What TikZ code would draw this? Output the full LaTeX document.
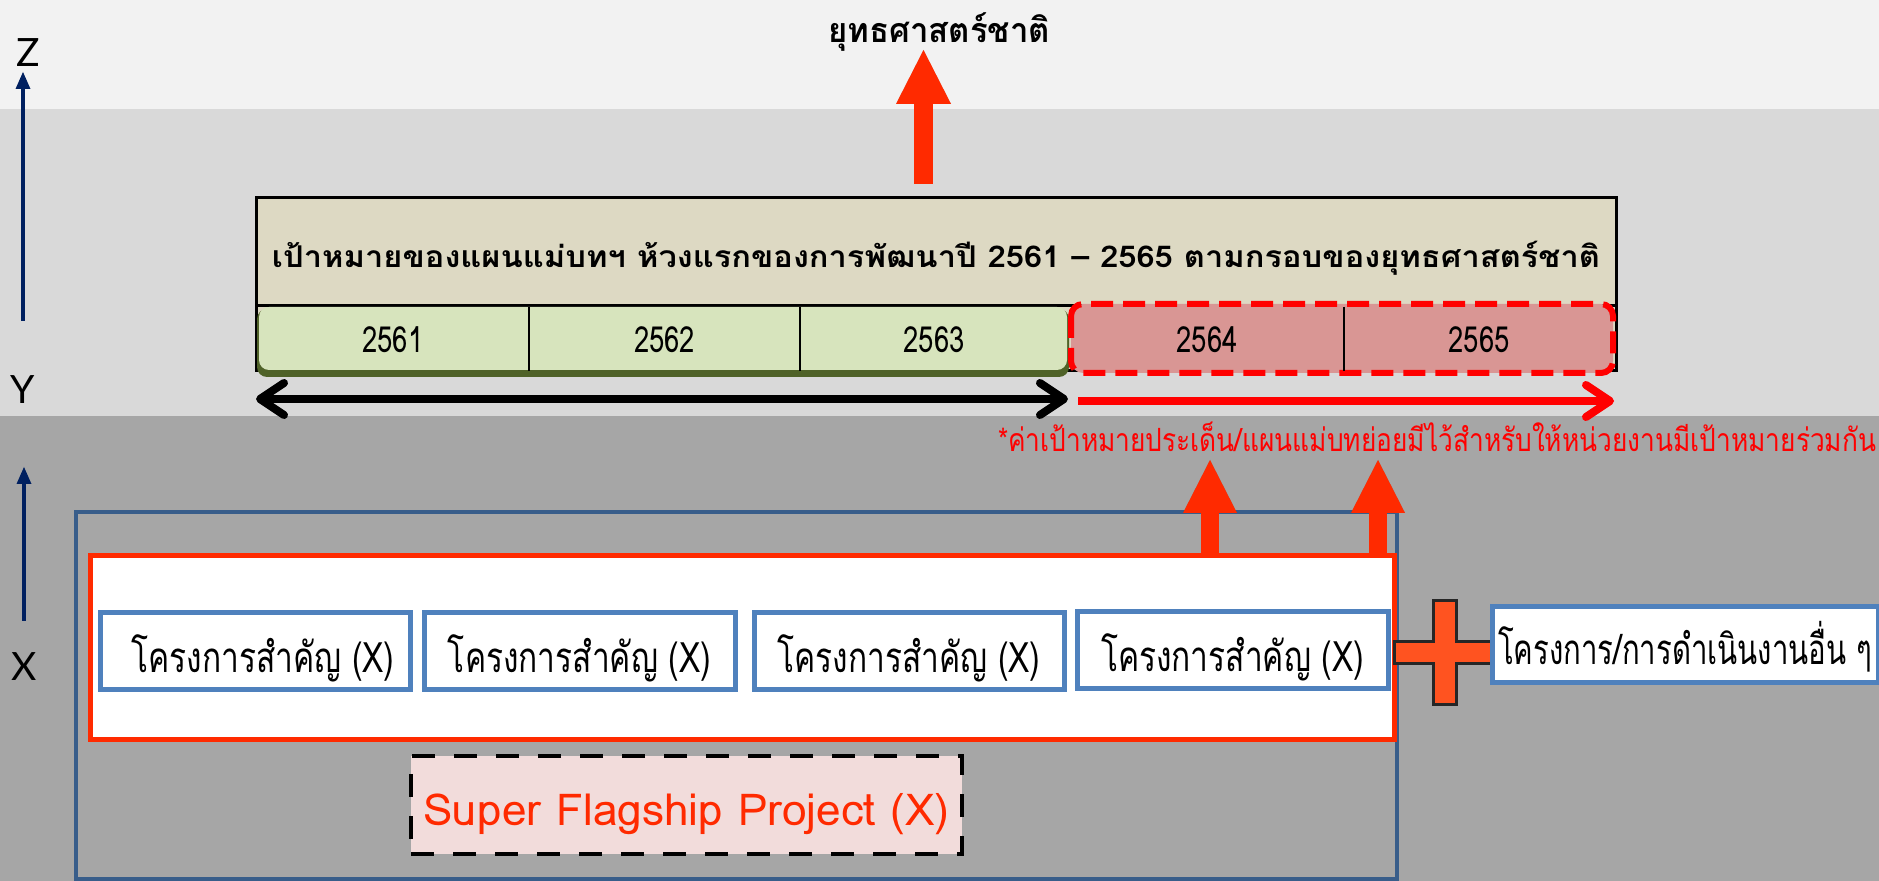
\documentclass[tikz,border=0pt]{standalone}
\usepackage{fontspec}
\usepackage{graphicx}
\usetikzlibrary{arrows.meta,shadows,calc}
\newfontfamily\thai[Script=Thai]{Loma}
\newfontfamily\axfont{Lato}
\newcommand\fitw[2]{\resizebox{#1}{\height}{#2}}
\definecolor{cBandA}{HTML}{F2F2F2}
\definecolor{cBandB}{HTML}{D9D9D9}
\definecolor{cBandC}{HTML}{A6A6A6}
\definecolor{cTan}{HTML}{DDD9C3}
\definecolor{cGreen}{HTML}{D7E4BD}
\definecolor{cOlive}{HTML}{4F6228}
\definecolor{cPink}{HTML}{D99694}
\definecolor{cRed}{HTML}{FF0000}
\definecolor{cRedA}{HTML}{FF2A00}
\definecolor{cNavy}{HTML}{002060}
\definecolor{cBlue}{HTML}{4F81BD}
\definecolor{cBlueD}{HTML}{385D8A}
\definecolor{cFlag}{HTML}{F2DCDB}
\definecolor{cPlus}{HTML}{FF5320}
\definecolor{cDark}{HTML}{262626}
\begin{document}
\begin{tikzpicture}[x=0.5pt,y=-0.5pt,
  every node/.style={inner sep=0pt, outer sep=0pt},
  projbox/.style={draw=cBlue, line width=2.5pt, fill=white, minimum width=155pt, minimum height=38pt,
    drop shadow={opacity=0.25, shadow xshift=0.5pt, shadow yshift=-1.5pt},
    font=\thai\fontsize{21}{24}\selectfont, text height=21pt, text depth=0pt},
  yearcell/.style={minimum height=32pt, font=\thai\fontsize{18}{20}\selectfont, text height=14pt, text depth=0pt},
  bigred/.style={draw=cRedA, line width=9.5pt, -{Triangle[length=27pt,width=27.5pt,line width=0pt]}},
  smallred/.style={draw=cRedA, line width=9pt, -{Triangle[length=26.5pt,width=27pt,line width=0pt]}},
  redshadow/.style={draw=black, opacity=0.18, xshift=1.5pt, yshift=-2pt},
  axisarrow/.style={draw=cNavy, line width=1.75pt, -{Triangle[length=8.5pt,width=7.5pt,line width=0pt]}},
  axislabel/.style={font=\axfont\fontsize{19.5}{22}\selectfont, anchor=base},
  spanarrow/.style={line width=4pt, {Straight Barb[length=12pt,width=16pt,round]}-{Straight Barb[length=12pt,width=16pt,round]}},
  redspan/.style={draw=cRed, line width=4pt, -{Straight Barb[length=12pt,width=16pt,round]}}
]
\useasboundingbox (0,0) rectangle (1879,881);
% background bands
\fill[cBandA] (0,0) rectangle (1879,109);
\fill[cBandB] (0,109) rectangle (1879,416);
\fill[cBandC] (0,416) rectangle (1879,881);

% axes
\node[axislabel] (zl) at (28,67) {Z};
\node[axislabel] (yl) at (23,404) {Y};
\node[axislabel] (xl) at (24,680) {X};
\coordinate (ztip) at (23,72);
\coordinate (zbot) at (23,321);
\coordinate (xtip) at (24,467);
\coordinate (xbot) at (24,621);
\draw[axisarrow] (zbot) -- (ztip);
\draw[axisarrow] (xbot) -- (xtip);

% goal
\node[anchor=base, font=\thai\bfseries\fontsize{17}{19}\selectfont] (goal) at (939,43) {\fitw{111pt}{ยุทธศาสตร์ชาติ}};
\coordinate (gtip) at (923.5,50);

% title box
\node[draw=black, line width=1.5pt, fill=cTan, minimum width=680pt, minimum height=54pt, anchor=north west,
  font=\thai\bfseries\fontsize{15}{17}\selectfont, text height=16pt, text depth=0pt] (titlebox) at (256,198)
  {\fitw{664pt}{เป้าหมายของแผนแม่บทฯ ห้วงแรกของการพัฒนาปี 2561 – 2565 ตามกรอบของยุทธศาสตร์ชาติ}};
\draw[black, line width=1.5pt, fill=cTan] (titlebox.south west) rectangle ++(1360,65);
\draw[bigred, redshadow, shorten <=7pt] (titlebox.north -| gtip) -- (gtip);
\draw[bigred, shorten <=7pt] (titlebox.north -| gtip) -- (gtip);

% year row
\fill[cOlive, rounded corners=5pt] (257,309) rectangle (1069,377);
\fill[cGreen, rounded corners=5pt] (259,307) rectangle (1067,370);
\draw[cRed, line width=3pt, dash pattern=on 11pt off 5pt, fill=cPink, rounded corners=6pt] (1071,304) rectangle (1613,373);
\node[yearcell, minimum width=136pt] (y1) at (393,339) {\fitw{30.5pt}{2561}};
\node[yearcell, minimum width=135.5pt] (y2) at (664.5,339) {\fitw{30.5pt}{2562}};
\node[yearcell, minimum width=134pt] (y3) at (934,339) {\fitw{30.5pt}{2563}};
\node[yearcell, minimum width=137pt] (y4) at (1207,339) {\fitw{30.5pt}{2564}};
\node[yearcell, minimum width=135pt] (y5) at (1479,339) {\fitw{30.5pt}{2565}};
\draw[black, line width=1pt] (y1.north east) -- (y1.south east);
\draw[black, line width=1pt] (y2.north east) -- (y2.south east);
\draw[black, line width=1pt] (y4.north east) -- (y4.south east);

% span arrows
\coordinate (sa) at (256,399);
\coordinate (sb) at (1068,399);
\coordinate (ra) at (1078,401);
\coordinate (rb) at (1614,401);
\draw[spanarrow] (sa) -- (sb);
\draw[redspan] (ra) -- (rb);

% note
\node[anchor=base east, text=cRed, font=\thai\fontsize{16}{18}\selectfont] (note) at (1876,452)
  {\fitw{439pt}{*ค่าเป้าหมายประเด็น/แผนแม่บทย่อยมีไว้สำหรับให้หน่วยงานมีเป้าหมายร่วมกัน}};

% outer frame and panel
\node[draw=cBlueD, line width=2pt, minimum width=660.5pt, minimum height=183.5pt, anchor=north west] (outer) at (76,512) {};
\node[draw=cRedA, fill=white, line width=2.5pt, minimum width=652pt, minimum height=91.5pt, anchor=north west,
  drop shadow={opacity=0.25, shadow xshift=0.5pt, shadow yshift=-1.5pt}] (panel) at (90,556) {};

\coordinate (t1) at (1210,460);
\coordinate (t2) at (1378,460);
\draw[smallred, redshadow] (panel.north -| t1) -- (t1);
\draw[smallred, redshadow] (panel.north -| t2) -- (t2);
\draw[smallred] (panel.north -| t1) -- (t1);
\draw[smallred] (panel.north -| t2) -- (t2);

% project boxes
\node[projbox] (b1) at (255,651) {\hspace*{8pt}\fitw{131.5pt}{โครงการสำคัญ (X)}};
\node[projbox, minimum width=155.5pt] (b2) at (579.5,651) {\fitw{131.5pt}{โครงการสำคัญ (X)}};
\node[projbox] (b3) at (909,651) {\fitw{131.5pt}{โครงการสำคัญ (X)}};
\node[projbox, minimum width=155.5pt] (b4) at (1232.5,650) {\fitw{131.5pt}{โครงการสำคัญ (X)}};

% plus sign
\draw[fill=cPlus, draw=cDark, line width=1.5pt]
  (1394,641) -- (1433,641) -- (1433,601) -- (1456,601) -- (1456,641) -- (1496,641) -- (1496,663)
  -- (1456,663) -- (1456,704) -- (1433,704) -- (1433,663) -- (1394,663) -- cycle;

% other box
\node[projbox, minimum width=193pt, minimum height=37.5pt, text height=20pt] (other) at (1685,644.5) {\fitw{187pt}{โครงการ/การดำเนินงานอื่น ๆ}};

% super flagship
\node[draw=black, line width=2.25pt, dash pattern=on 11.5pt off 9.5pt, fill=cFlag, minimum width=275.5pt, minimum height=49pt,
  text=cRedA, font=\thai\fontsize{22}{25}\selectfont, text height=20pt, text depth=0pt] (flag) at (686.5,805) {\fitw{263pt}{Super Flagship Project (X)}};
\end{tikzpicture}
\end{document}
